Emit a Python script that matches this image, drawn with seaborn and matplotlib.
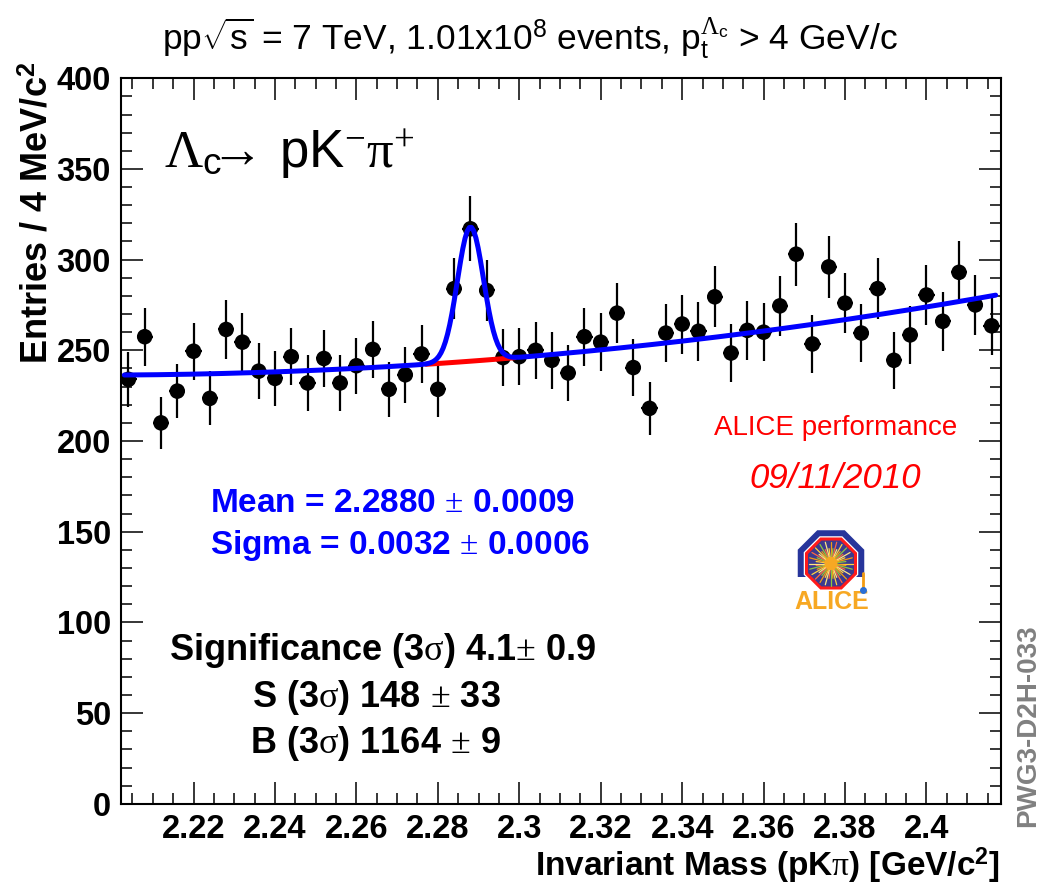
import numpy as np
import pandas as pd
import matplotlib
matplotlib.use("Agg")
import matplotlib.pyplot as plt
from matplotlib.patches import Polygon, Rectangle
from matplotlib.ticker import MultipleLocator, FixedLocator
import seaborn as sns

# ---- data -------------------------------------------------------------
bin_first = 2.204          # centre of first bin [GeV/c^2]
bin_width = 0.004          # 4 MeV/c^2
counts = [234, 257.5, 210, 227.5, 249.5, 223.5, 261.5, 254.5, 238.5, 234.5,
          246.5, 232, 245.5, 232, 241.5, 250.5, 228.5, 236.5, 248, 228.5,
          284, 317, 283, 246, 246.5, 250, 244.5, 237.5, 257.5, 254.5,
          270.5, 240.5, 218, 259.5, 264.5, 260.5, 279.5, 248.5, 261, 260,
          274.5, 303, 253.5, 296, 276, 259.5, 284, 244.5, 258.5, 280.5,
          266, 293, 275, 263.5]
mass = np.round(bin_first + bin_width * np.arange(len(counts)), 3)

# fit results
fit_mean, fit_mean_err = 2.2880, 0.0009
fit_sigma, fit_sigma_err = 0.0032, 0.0006
signif, signif_err = 4.1, 0.9
sig_yield, sig_yield_err = 148, 33
bkg_yield, bkg_yield_err = 1164, 9
# polynomial background: b0 + b1*u + b2*u^2 with u = m - bin_first
bkg_par = [236.4, 14.9, 900.0]
fit_lo, fit_hi = 2.203, 2.417

x_major = [2.22, 2.24, 2.26, 2.28, 2.30, 2.32, 2.34, 2.36, 2.38, 2.40]
x_labels = ["2.22", "2.24", "2.26", "2.28", "2.3", "2.32", "2.34", "2.36", "2.38", "2.4"]


def background(m):
    u = m - bin_first
    return bkg_par[0] + bkg_par[1] * u + bkg_par[2] * u ** 2


# gaussian amplitude (per bin) from the signal yield inside +-3 sigma
gaus_amp = sig_yield * bin_width / (fit_sigma * np.sqrt(2 * np.pi) * 0.9973)


def total(m):
    return background(m) + gaus_amp * np.exp(-0.5 * ((m - fit_mean) / fit_sigma) ** 2)


# ---- style ------------------------------------------------------------
sns.set_theme(style="ticks")
plt.rcParams["font.family"] = ["Liberation Sans", "DejaVu Sans"]
plt.rcParams["mathtext.fontset"] = "custom"
plt.rcParams["mathtext.rm"] = "Liberation Serif"
plt.rcParams["mathtext.it"] = "Liberation Serif:italic"
plt.rcParams["mathtext.bf"] = "Liberation Sans:bold"
plt.rcParams["mathtext.sf"] = "Liberation Sans"
for key in ["text.color", "axes.labelcolor", "xtick.color", "ytick.color",
            "xtick.labelcolor", "ytick.labelcolor", "axes.edgecolor"]:
    plt.rcParams[key] = "black"

fig = plt.figure(figsize=(10.43, 8.92), dpi=100)
fig.patch.set_facecolor("white")
ax = fig.add_axes([0.1157, 0.0989, 0.8440, 0.8134])
ax.set_facecolor("white")

df = pd.DataFrame({"mass": mass, "counts": counts})
df["err"] = np.sqrt(df["counts"])

ax.errorbar(df["mass"], df["counts"], yerr=df["err"], xerr=bin_width / 2,
            fmt="none", ecolor="black", elinewidth=1.6, capsize=0, zorder=2)
sns.scatterplot(data=df, x="mass", y="counts", ax=ax, color="black", s=125,
                edgecolor="none", linewidth=0, zorder=3, legend=False)

# fit curves
m_fit = np.linspace(fit_lo, fit_hi, 400)
fit_df = pd.DataFrame({"m": m_fit, "y": total(m_fit)})
m_bkg = np.linspace(fit_mean - 3.4 * fit_sigma, fit_mean + 3.4 * fit_sigma, 30)
bkg_df = pd.DataFrame({"m": m_bkg, "y": background(m_bkg)})
sns.lineplot(data=bkg_df, x="m", y="y", ax=ax, color="#ff0000", lw=3.6,
             estimator=None, sort=False, zorder=4)
sns.lineplot(data=fit_df, x="m", y="y", ax=ax, color="#0000ff", lw=3.6,
             estimator=None, sort=False, zorder=5)

# ---- axes ---------------------------------------------------------------
ax.set_xlim(2.2021, 2.4183)
ax.set_ylim(0, 400)
ax.xaxis.set_major_locator(FixedLocator(x_major))
ax.set_xticklabels(x_labels)
ax.xaxis.set_minor_locator(MultipleLocator(0.005))
ax.yaxis.set_major_locator(MultipleLocator(50))
ax.yaxis.set_minor_locator(MultipleLocator(10))
ax.tick_params(which="both", direction="in", top=True, right=True,
               color="black", width=1.1)
ax.tick_params(which="major", length=15.5, labelsize=23.5, pad=7)
ax.tick_params(which="minor", length=8.2)
for lab in ax.get_xticklabels() + ax.get_yticklabels():
    lab.set_fontweight("bold")
    lab.set_color("black")
for sp in ax.spines.values():
    sp.set_visible(True)
    sp.set_color("black")
    sp.set_linewidth(1.5)
ax.set_xlabel("")
ax.set_ylabel("")

# axis titles
fig.text(1000 / 1043, 1 - 866 / 892,
         r"Invariant Mass (pK$\mathrm{\pi}$) [GeV/c$^{\mathbf{2}}$]",
         ha="right", va="center", fontsize=24, fontweight="bold")
fig.text(38 / 1043, 1 - 62 / 892, r"Entries / 4 MeV/c$^{\mathbf{2}}$",
         rotation=90, ha="center", va="top", fontsize=26, fontweight="bold")

# ---- texts ----------------------------------------------------------------
fig.text(0.508, 0.957,
         r"pp$\sqrt{\mathsf{s}}$ = 7 TeV, 1.01x10$^{\mathsf{8}}$ events, "
         r"p$_{\mathsf{t}}^{\Lambda_{\mathsf{c}}}$ > 4 GeV/c",
         ha="center", va="center", fontsize=25.5)

fig.text(0.157, 0.826,
         r"$\Lambda_{\mathsf{c}}\!\!\!\rightarrow\!$ pK$^{-}\mathrm{\pi}^{+}$",
         ha="left", va="center", fontsize=38)

pm = r" $\pm$ "
fig.text(0.201, 0.436, f"Mean = {fit_mean:.4f}" + pm + f"{fit_mean_err:.4f}",
         ha="left", va="center", fontsize=24, fontweight="bold", color="#0000ff")
fig.text(0.201, 0.388, f"Sigma = {fit_sigma:.4f}" + pm + f"{fit_sigma_err:.4f}",
         ha="left", va="center", fontsize=24, fontweight="bold", color="#0000ff")

fig.text(0.3667, 0.271,
         r"Significance (3$\mathrm{\sigma}$) " + f"{signif}" + r"$\pm$ " + f"{signif_err}",
         ha="center", va="center", fontsize=26, fontweight="bold")
fig.text(0.361, 0.218, r"S (3$\mathrm{\sigma}$) " + f"{sig_yield}" + pm + f"{sig_yield_err}",
         ha="center", va="center", fontsize=26, fontweight="bold")
fig.text(0.3595, 0.167, r"B (3$\mathrm{\sigma}$) " + f"{bkg_yield}" + pm + f"{bkg_yield_err}",
         ha="center", va="center", fontsize=26, fontweight="bold")

fig.text(0.801, 0.520, "ALICE performance", ha="center", va="center",
         fontsize=20, color="#ff0000")
fig.text(0.801, 0.464, "09/11/2010", ha="center", va="center",
         fontsize=25, color="#ff0000", style="italic")

fig.text(1028 / 1043, 1 - 726 / 892, "PWG3-D2H-033", rotation=90,
         ha="center", va="center", fontsize=20, fontweight="bold", color="#808080")

# ---- experiment logo ---------------------------------------------------------
lax = fig.add_axes([790 / 1043, 1 - 615 / 892, 85 / 1043, 90 / 892])
lax.set_xlim(790, 875)
lax.set_ylim(615, 525)
lax.set_axis_off()
cx, cy = 831.0, 563.5


def octagon(r):
    ang = np.deg2rad(22.5 + 45 * np.arange(8))
    return np.column_stack([cx + r * np.cos(ang), cy + r * np.sin(ang)])


lax.add_patch(Polygon(octagon(36.0), closed=True, fc="#27359b", ec="none", zorder=1))
lax.add_patch(Rectangle((780, 577), 100, 40, fc="white", ec="none", zorder=2))
lax.add_patch(Polygon(octagon(29.5), closed=True, fc="white", ec="none", zorder=3))
lax.add_patch(Polygon(octagon(26.5), closed=True, fc="#3b3a8f", ec="#ff1a1a", lw=2.2, zorder=4))
ray_cols = ["#ffd23f", "#f39c12", "#8cc63f", "#ff6a3d", "#ffe680"]
for k, a in enumerate(np.linspace(0, 2 * np.pi, 48, endpoint=False)):
    rr = 22 if k % 2 == 0 else 15
    lax.plot([cx, cx + rr * np.cos(a)], [cy, cy + rr * np.sin(a)],
             color=ray_cols[k % len(ray_cols)], lw=0.9, zorder=5)
lax.add_patch(Polygon(octagon(7), closed=True, fc="#f7a823", ec="none", zorder=6))
lax.plot([863, 863], [573, 588], color="#f39c12", lw=2, zorder=6)
lax.plot([863], [590], marker="o", ms=4, color="#2a6fd6", zorder=7)
lax.text(832, 602, "ALICE", ha="center", va="center", fontsize=18,
         fontweight="bold", color="#f7a823", zorder=6)

fig.savefig("out.png", dpi=100, facecolor="white")
